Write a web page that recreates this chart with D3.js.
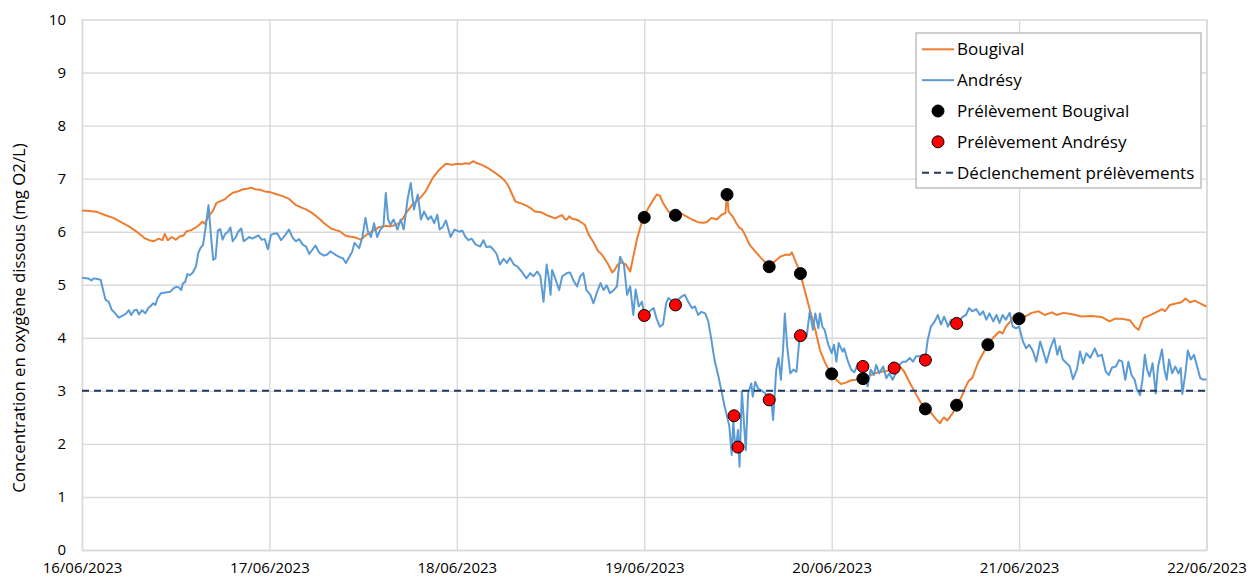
<!DOCTYPE html>
<html lang="fr">
<head>
<meta charset="utf-8">
<script src="https://cdn.jsdelivr.net/npm/d3@7"></script>
<style>
  body { margin: 0; background: #fff; }
  svg text { font-family: "Open Sans", "Noto Sans", sans-serif; fill: #000; }
</style>
</head>
<body>
<svg id="chart" width="1249" height="579"></svg>
<script>
// Layout
const WIDTH = 1249;
const HEIGHT = 579;
const PLOT = { left: 82, right: 1206.5, top: 19.5, bottom: 550 };
const GRID = '#d9d9d9';
const ORANGE = '#ed7d31';
const BLUE = '#5b9bd5';
const NAVY = '#203864';

// Tick labels
const DAY_LABELS = ['16/06/2023', '17/06/2023', '18/06/2023', '19/06/2023', '20/06/2023', '21/06/2023', '22/06/2023'];
const DAY_HOURS = [0, 24, 48, 72, 96, 120, 144];
const Y_TICKS = [0, 1, 2, 3, 4, 5, 6, 7, 8, 9, 10];
const Y_TITLE = 'Concentration en oxygène dissous (mg O2/L)';

// Series: [hours since 16/06/2023 00:00, mg O2/L]
const bougival = [
  [0, 6.40], [1, 6.39], [2, 6.37], [3, 6.31], [4, 6.26], [5, 6.18], [6, 6.10], [7, 6.00], [8, 5.88], [8.6, 5.84],
  [9.2, 5.82], [9.8, 5.87], [10.3, 5.84], [10.6, 5.96], [11, 5.84], [11.5, 5.90], [12, 5.85], [12.5, 5.91], [13, 5.93], [13.4, 6.01],
  [14, 6.03], [14.6, 6.08], [15.1, 6.14], [15.4, 6.19], [15.7, 6.15], [16.2, 6.29], [16.8, 6.40], [17.2, 6.54], [17.8, 6.58], [18.3, 6.61],
  [18.8, 6.68], [19.4, 6.74], [20, 6.76], [20.6, 6.80], [21.2, 6.81], [21.6, 6.83], [22.2, 6.80], [22.8, 6.79], [23.4, 6.76], [24, 6.75],
  [24.8, 6.71], [25.7, 6.67], [26.5, 6.62], [27.4, 6.50], [28.2, 6.45], [28.7, 6.42], [29.4, 6.36], [30, 6.29], [30.5, 6.23], [31, 6.16],
  [31.9, 6.06], [32.5, 6.03], [33, 6.01], [33.8, 5.92], [34.7, 5.90], [35.2, 5.88], [35.7, 5.85], [36.1, 5.90], [36.4, 5.94], [37.2, 6.01],
  [38.1, 6.09], [38.9, 6.11], [39.5, 6.10], [40, 6.12], [40.6, 6.16], [41.1, 6.25], [41.5, 6.35], [42.3, 6.51], [43.2, 6.62], [44, 6.76],
  [44.5, 6.90], [44.9, 7.01], [45.7, 7.16], [46.6, 7.28], [47.4, 7.26], [48, 7.28], [48.6, 7.27], [49.1, 7.29], [49.6, 7.28], [50.1, 7.33],
  [50.6, 7.29], [51.2, 7.26], [52, 7.20], [52.9, 7.11], [53.8, 7.01], [54.2, 6.95], [54.6, 6.86], [55, 6.73], [55.5, 6.57], [56.3, 6.53],
  [56.9, 6.49], [57.4, 6.45], [58, 6.38], [58.9, 6.36], [59.7, 6.30], [60.6, 6.25], [61.1, 6.29], [61.5, 6.31], [61.8, 6.24], [62.1, 6.23],
  [62.4, 6.29], [62.7, 6.25], [63.2, 6.23], [63.6, 6.21], [64.1, 6.16], [64.4, 6.13], [64.9, 5.94], [65.5, 5.80], [66.1, 5.63], [66.5, 5.58],
  [66.8, 5.52], [67.4, 5.38], [67.9, 5.23], [68.3, 5.30], [68.6, 5.38], [69.1, 5.42], [69.6, 5.39], [70, 5.30], [70.2, 5.25], [70.6, 5.53],
  [71.1, 5.88], [71.7, 6.19], [72, 6.29], [72.5, 6.44], [73.2, 6.61], [73.6, 6.70], [74, 6.68], [74.4, 6.54], [75.1, 6.38], [75.7, 6.32],
  [76.6, 6.35], [77.4, 6.29], [78.1, 6.23], [78.9, 6.18], [79.5, 6.17], [80, 6.18], [80.6, 6.26], [81.3, 6.23], [81.9, 6.32], [82.4, 6.35],
  [82.6, 6.71], [82.8, 6.38], [83.4, 6.27], [83.8, 6.16], [84.2, 6.07], [84.5, 6.05], [84.9, 5.94], [85.5, 5.75], [86.2, 5.63], [86.8, 5.53],
  [87.5, 5.42], [88, 5.35], [88.7, 5.44], [89.4, 5.53], [90.2, 5.57], [90.6, 5.56], [90.9, 5.61], [91.3, 5.47], [91.9, 5.25], [92.6, 4.87],
  [93.2, 4.53], [93.9, 4.15], [94.5, 3.77], [95.1, 3.55], [95.6, 3.40], [96, 3.32], [96.5, 3.22], [97.2, 3.13], [97.9, 3.16], [98.5, 3.20],
  [99.1, 3.21], [99.8, 3.26], [100.6, 3.27], [101.5, 3.33], [102.3, 3.36], [103.2, 3.38], [104, 3.41], [104.8, 3.45], [105.3, 3.36], [105.9, 3.18],
  [106.6, 2.99], [107.2, 2.83], [107.9, 2.66], [108.7, 2.59], [109.4, 2.46], [109.9, 2.39], [110.2, 2.47], [110.4, 2.50], [110.8, 2.44], [111.1, 2.50],
  [111.5, 2.58], [112, 2.73], [112.6, 2.88], [113, 3.02], [113.5, 3.18], [114, 3.24], [114.3, 3.36], [114.8, 3.55], [115.4, 3.71], [116, 3.87],
  [116.8, 4.02], [117.5, 4.12], [117.9, 4.08], [118.3, 4.21], [118.9, 4.31], [119.4, 4.43], [120, 4.37], [120.9, 4.41], [121.6, 4.47], [122.5, 4.50],
  [123.3, 4.43], [124.2, 4.48], [124.8, 4.43], [125.7, 4.47], [126.7, 4.45], [128, 4.40], [129.3, 4.41], [130.6, 4.39], [131.6, 4.31], [132.3, 4.36],
  [133.1, 4.36], [134.2, 4.33], [134.8, 4.21], [135.3, 4.15], [135.9, 4.37], [136.5, 4.41], [137.4, 4.47], [138.3, 4.54], [138.7, 4.50], [139.3, 4.62],
  [140.2, 4.65], [140.8, 4.67], [141.3, 4.74], [141.9, 4.67], [142.5, 4.70], [143.3, 4.64], [144, 4.59],
];

const andresy = [
  [0, 5.13], [0.8, 5.12], [1.2, 5.08], [1.5, 5.12], [2, 5.11], [2.4, 5.09], [2.7, 4.90], [3, 4.72], [3.4, 4.68], [3.8, 4.53],
  [4.2, 4.47], [4.7, 4.38], [5.2, 4.42], [5.6, 4.45], [6, 4.52], [6.3, 4.43], [6.7, 4.52], [7, 4.53], [7.3, 4.44], [7.7, 4.52],
  [8.1, 4.46], [8.5, 4.56], [8.8, 4.60], [9.1, 4.65], [9.4, 4.62], [9.7, 4.75], [10.1, 4.84], [10.5, 4.85], [10.9, 4.86], [11.3, 4.87],
  [11.7, 4.93], [12.1, 4.96], [12.4, 4.95], [12.7, 4.90], [12.9, 5.02], [13.2, 5.05], [13.5, 5.20], [13.8, 5.18], [14.2, 5.23], [14.6, 5.35],
  [14.9, 5.60], [15.2, 5.70], [15.5, 5.75], [15.8, 6.05], [16.2, 6.50], [16.5, 5.95], [16.8, 5.47], [17.1, 5.50], [17.4, 6.02], [17.7, 6.05],
  [18, 5.85], [18.3, 5.95], [18.7, 6.00], [19, 6.08], [19.3, 5.82], [19.7, 5.90], [20, 6.00], [20.4, 6.06], [20.7, 5.82], [21, 5.85],
  [21.4, 5.90], [21.8, 5.87], [22.2, 5.90], [22.6, 5.93], [23, 5.85], [23.4, 5.86], [23.8, 5.67], [24.2, 5.94], [24.5, 5.96], [25, 5.97],
  [25.5, 5.84], [26, 5.93], [26.5, 6.04], [27, 5.88], [27.4, 5.82], [27.8, 5.86], [28.3, 5.75], [28.7, 5.72], [29.1, 5.58], [29.5, 5.66],
  [29.9, 5.74], [30.4, 5.60], [31, 5.55], [31.4, 5.57], [31.8, 5.63], [32.4, 5.57], [33, 5.52], [33.4, 5.50], [33.8, 5.41], [34.2, 5.52],
  [34.6, 5.62], [34.9, 5.79], [35.5, 5.69], [35.9, 5.90], [36.3, 6.26], [36.6, 6.01], [37, 5.90], [37.4, 6.16], [37.8, 5.90], [38.2, 6.04],
  [38.6, 6.10], [38.9, 6.73], [39.2, 6.23], [39.5, 6.13], [39.9, 6.23], [40.4, 6.04], [40.8, 6.23], [41.2, 6.04], [41.7, 6.62], [42.1, 6.92],
  [42.5, 6.42], [43, 6.70], [43.4, 6.23], [43.8, 6.38], [44.3, 6.23], [44.7, 6.29], [45.1, 6.16], [45.5, 6.32], [45.8, 6.04], [46.2, 6.09],
  [46.6, 6.21], [47.2, 5.90], [47.7, 6.04], [48.3, 6.00], [48.7, 6.02], [49.1, 5.90], [49.5, 5.84], [49.9, 5.87], [50.4, 5.76], [51, 5.72],
  [51.4, 5.84], [51.8, 5.71], [52.3, 5.72], [52.7, 5.66], [53.1, 5.58], [53.5, 5.38], [54, 5.49], [54.4, 5.41], [54.8, 5.51], [55.3, 5.38],
  [55.7, 5.35], [56.3, 5.25], [56.9, 5.12], [57.4, 5.22], [57.8, 5.16], [58.3, 5.25], [58.7, 5.16], [59.1, 4.68], [59.5, 5.38], [59.8, 5.10],
  [60, 4.81], [60.2, 5.28], [60.6, 5.12], [61.1, 4.90], [61.5, 5.16], [62.1, 5.22], [62.5, 5.23], [63, 5.06], [63.4, 4.97], [63.8, 5.16],
  [64.2, 5.22], [64.6, 4.90], [65.1, 4.81], [65.5, 4.65], [65.9, 4.84], [66.4, 5.03], [66.8, 4.90], [67.2, 4.99], [67.6, 4.84], [68.1, 4.90],
  [68.5, 4.97], [68.9, 5.53], [69.4, 5.38], [69.8, 4.81], [70.2, 4.97], [70.6, 4.43], [70.9, 4.91], [71.3, 4.59], [71.7, 4.68], [72, 4.45],
  [72.3, 4.40], [72.7, 4.50], [73.2, 4.56], [73.6, 4.35], [74, 4.21], [74.4, 4.25], [74.8, 4.65], [75.1, 4.75], [75.6, 4.69], [76.1, 4.69],
  [76.8, 4.78], [77.2, 4.81], [77.6, 4.69], [78.1, 4.56], [78.5, 4.59], [78.9, 4.43], [79.3, 4.49], [79.8, 4.46], [80.2, 4.31], [80.6, 3.96],
  [81, 3.58], [81.5, 3.27], [81.9, 2.99], [82.3, 2.70], [82.6, 2.52], [82.9, 2.33], [83.2, 1.79], [83.4, 2.42], [83.7, 1.85], [84, 2.26],
  [84.2, 1.57], [84.5, 2.99], [84.8, 2.33], [85, 1.88], [85.3, 2.95], [85.7, 3.14], [85.9, 2.89], [86.2, 3.17], [86.6, 3.04], [87, 3.01],
  [87.5, 2.95], [87.9, 2.83], [88.3, 2.77], [88.5, 2.45], [88.9, 3.40], [89.2, 3.62], [89.5, 3.21], [89.8, 3.84], [90, 4.46], [90.3, 3.84],
  [90.7, 3.33], [91.1, 3.40], [91.5, 3.36], [91.9, 4.03], [92.4, 4.09], [92.8, 4.03], [93.2, 4.50], [93.6, 4.15], [93.9, 4.46], [94.3, 4.18],
  [94.5, 4.46], [94.8, 4.21], [95.1, 4.15], [95.5, 3.90], [96, 3.71], [96.3, 3.87], [96.6, 3.55], [96.9, 3.90], [97.4, 3.74], [97.6, 3.80],
  [98.1, 3.55], [98.5, 3.40], [98.9, 3.35], [99.4, 3.52], [99.8, 3.45], [100.2, 3.33], [100.6, 3.08], [101, 3.40], [101.4, 3.30], [101.7, 3.49],
  [102.1, 3.33], [102.6, 3.46], [103, 3.24], [103.4, 3.33], [103.8, 3.21], [104.2, 3.33], [104.7, 3.49], [105.1, 3.55], [105.5, 3.55], [106, 3.62],
  [106.4, 3.55], [106.8, 3.65], [107.2, 3.65], [107.6, 3.68], [108, 3.62], [108.3, 3.96], [108.7, 4.21], [109.2, 4.31], [109.6, 4.43], [110, 4.25],
  [110.4, 4.40], [110.9, 4.21], [111.3, 4.34], [111.8, 4.25], [112.3, 4.31], [112.8, 4.40], [113.2, 4.43], [113.6, 4.56], [114, 4.50], [114.5, 4.54],
  [115, 4.43], [115.4, 4.50], [115.8, 4.34], [116.2, 4.46], [116.7, 4.31], [117.1, 4.43], [117.5, 4.28], [117.9, 4.43], [118.3, 4.34], [118.8, 4.47],
  [119.2, 4.21], [119.6, 4.18], [120, 4.21], [120.1, 4.15], [120.5, 3.93], [120.9, 3.80], [121.3, 3.87], [121.8, 3.74], [122.2, 3.55], [122.7, 3.93],
  [123.1, 3.74], [123.5, 3.53], [124, 3.80], [124.5, 3.99], [124.9, 3.68], [125.2, 3.84], [125.6, 3.59], [126.1, 3.52], [126.5, 3.46], [126.9, 3.22],
  [127.4, 3.40], [127.8, 3.74], [128.2, 3.52], [128.6, 3.71], [129.1, 3.62], [129.7, 3.80], [130.1, 3.65], [130.6, 3.68], [131.1, 3.36], [131.5, 3.30],
  [131.9, 3.44], [132.4, 3.46], [132.8, 3.58], [133.2, 3.55], [133.6, 3.21], [134, 3.55], [134.4, 3.30], [134.8, 3.21], [135.1, 3.02], [135.5, 2.92],
  [135.8, 3.21], [136.1, 3.68], [136.4, 3.40], [136.7, 3.27], [137.1, 3.52], [137.5, 2.95], [137.8, 3.46], [138.3, 3.78], [138.6, 3.40], [138.9, 3.21],
  [139.2, 3.59], [139.6, 3.33], [140, 3.46], [140.4, 3.33], [140.7, 3.43], [140.9, 2.94], [141.3, 3.33], [141.6, 3.76], [142, 3.59], [142.4, 3.68],
  [142.8, 3.46], [143.2, 3.24], [143.6, 3.21], [144, 3.22],
];

// Samples taken
const prelevBougival = [
  [72, 6.27], [76, 6.31], [82.6, 6.70], [88, 5.34], [92, 5.21], [96, 3.32],
  [100, 3.23], [108, 2.66], [112, 2.73], [116, 3.87], [120, 4.36],
];
const prelevAndresy = [
  [72, 4.42], [76, 4.62], [83.5, 2.53], [84, 1.94], [88, 2.83],
  [92, 4.04], [100, 3.46], [104, 3.43], [108, 3.58], [112, 4.27],
];
const SEUIL = 3;

// Scales
const x = d3.scaleLinear([0, 144], [PLOT.left, PLOT.right]);
const y = d3.scaleLinear([0, 10], [PLOT.bottom, PLOT.top]);

const svg = d3.select('#chart');

// Horizontal grid
svg
  .append('g')
  .attr('transform', `translate(${PLOT.left},0)`)
  .call(d3.axisLeft(y).tickValues(Y_TICKS).tickSize(-(PLOT.right - PLOT.left)).tickFormat(''))
  .call((g) => g.select('.domain').remove())
  .call((g) => g.selectAll('line').attr('stroke', GRID).attr('stroke-width', 1.4));

// Vertical grid
svg
  .append('g')
  .attr('transform', `translate(0,${PLOT.bottom})`)
  .call(d3.axisBottom(x).tickValues(DAY_HOURS).tickSize(-(PLOT.bottom - PLOT.top)).tickFormat(''))
  .call((g) => g.select('.domain').attr('stroke', GRID).attr('stroke-width', 1.4))
  .call((g) => g.selectAll('line').attr('stroke', GRID).attr('stroke-width', 1.4));

// Y axis labels
svg
  .append('g')
  .attr('transform', `translate(${PLOT.left},0)`)
  .call(d3.axisLeft(y).tickValues(Y_TICKS).tickSize(0).tickPadding(16))
  .call((g) => g.select('.domain').remove())
  .call((g) => g.selectAll('text').attr('font-size', 15).attr('font-family', null));

// X axis labels
svg
  .append('g')
  .attr('transform', `translate(0,${PLOT.bottom})`)
  .call(
    d3
      .axisBottom(x)
      .tickValues(DAY_HOURS)
      .tickSize(0)
      .tickPadding(12.5)
      .tickFormat((d, i) => DAY_LABELS[i]),
  )
  .call((g) => g.select('.domain').remove())
  .call((g) => g.selectAll('text').attr('font-size', 15).attr('font-family', null));

// Y title
svg
  .append('text')
  .attr('transform', 'translate(25,318) rotate(-90)')
  .attr('text-anchor', 'middle')
  .attr('font-size', 16.8)
  .text(Y_TITLE);

// Lines
const line = d3
  .line()
  .x((d) => x(d[0]))
  .y((d) => y(d[1]));

svg
  .append('path')
  .datum(bougival)
  .attr('fill', 'none')
  .attr('stroke', ORANGE)
  .attr('stroke-width', 2)
  .attr('stroke-linejoin', 'round')
  .attr('d', line);

svg
  .append('path')
  .datum(andresy)
  .attr('fill', 'none')
  .attr('stroke', BLUE)
  .attr('stroke-width', 2)
  .attr('stroke-linejoin', 'round')
  .attr('d', line);

// Threshold
svg
  .append('line')
  .attr('x1', x(0))
  .attr('x2', x(144))
  .attr('y1', y(SEUIL))
  .attr('y2', y(SEUIL))
  .attr('stroke', NAVY)
  .attr('stroke-width', 2)
  .attr('stroke-dasharray', '7,5');

// Sample markers
svg
  .append('g')
  .selectAll('circle')
  .data(prelevBougival)
  .join('circle')
  .attr('cx', (d) => x(d[0]))
  .attr('cy', (d) => y(d[1]))
  .attr('r', 6)
  .attr('fill', '#000')
  .attr('stroke', '#000')
  .attr('stroke-width', 1);

svg
  .append('g')
  .selectAll('circle')
  .data(prelevAndresy)
  .join('circle')
  .attr('cx', (d) => x(d[0]))
  .attr('cy', (d) => y(d[1]))
  .attr('r', 6)
  .attr('fill', '#ff0000')
  .attr('stroke', '#000')
  .attr('stroke-width', 1);

// Legend
const LEGEND = [
  { label: 'Bougival', type: 'line', color: ORANGE },
  { label: 'Andrésy', type: 'line', color: BLUE },
  { label: 'Prélèvement Bougival', type: 'dot', color: '#000' },
  { label: 'Prélèvement Andrésy', type: 'dot', color: '#ff0000' },
  { label: 'Déclenchement prélèvements', type: 'dash', color: NAVY },
];

const legend = svg.append('g').attr('transform', 'translate(916,33)');

legend
  .append('rect')
  .attr('width', 285)
  .attr('height', 155)
  .attr('fill', '#fff')
  .attr('stroke', '#bfbfbf')
  .attr('stroke-width', 1.5);

const rows = legend
  .selectAll('g.row')
  .data(LEGEND)
  .join('g')
  .attr('class', 'row')
  .attr('transform', (d, i) => `translate(0,${16.3 + i * 30.85})`);

rows
  .filter((d) => d.type !== 'dot')
  .append('line')
  .attr('x1', 6)
  .attr('x2', 38)
  .attr('stroke', (d) => d.color)
  .attr('stroke-width', 2)
  .attr('stroke-dasharray', (d) => (d.type === 'dash' ? '7,5' : null));

rows
  .filter((d) => d.type === 'dot')
  .append('circle')
  .attr('cx', 22)
  .attr('r', 6)
  .attr('fill', (d) => d.color)
  .attr('stroke', '#000')
  .attr('stroke-width', 1);

rows
  .append('text')
  .attr('x', 41)
  .attr('dy', '0.35em')
  .attr('font-size', 17)
  .text((d) => d.label);
</script>
</body>
</html>
